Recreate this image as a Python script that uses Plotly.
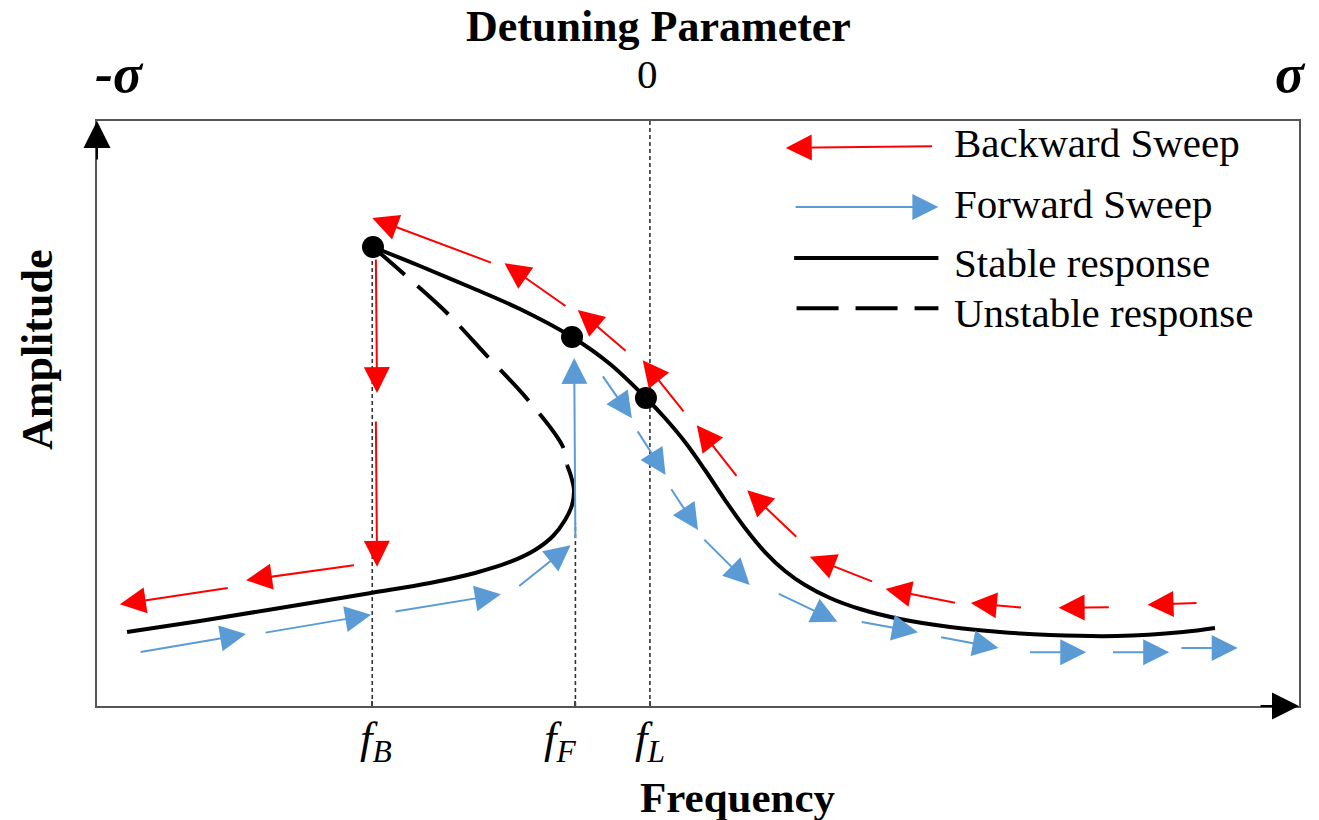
import plotly.graph_objects as go

# ---------------------------------------------------------------------------
# Frequency-response sketch of a hardening Duffing-type resonator.
# Frequency and amplitude are in normalised units (0..100 on both axes).
# ---------------------------------------------------------------------------

# stable upper branch (from the backward jump point f_B out to high frequency)
upper_freq = [22.96, 26.87, 31.03, 35.19, 39.52, 42.68, 45.67, 47.25, 48.92,
              50.58, 52.25, 53.91, 55.57, 57.24, 58.90, 60.98, 63.48, 66.81,
              70.97, 75.12, 79.28, 84.86, 90.35, 93.01]
upper_amp = [78.46, 75.21, 71.62, 67.86, 63.08, 58.46, 52.65, 49.23, 45.13,
             40.34, 35.21, 30.43, 26.32, 23.08, 20.68, 18.46, 16.58, 14.87,
             13.50, 12.65, 12.14, 11.97, 12.65, 13.33]

# stable lower branch (low frequency up to the fold near f_F)
lower_freq = [2.50, 8.57, 15.22, 22.80, 27.70, 31.45, 34.36, 36.44, 37.94,
              38.94, 39.52, 39.68, 39.43, 39.10]
lower_amp = [12.65, 14.53, 16.75, 19.32, 21.03, 22.74, 24.62, 26.67, 29.06,
             31.79, 34.36, 36.92, 39.32, 41.20]

# unstable middle branch joining the two folds
unstable_freq = [22.96, 26.29, 29.12, 32.53, 35.86, 38.77, 39.10]
unstable_amp = [78.46, 72.48, 67.18, 59.66, 52.31, 44.27, 41.20]

# highlighted points on the stable branch
point_freq = [22.96, 39.52, 45.67]
point_amp = [78.46, 63.08, 52.65]

# backward sweep arrows (tail -> tip)
bwd_tail_f = [91.6, 84.3, 77.0, 71.5, 64.6, 58.3, 53.3, 48.9, 44.1, 39.1, 32.9,
              23.2, 23.2, 21.5, 11.0]
bwd_tail_a = [17.6, 16.9, 16.8, 17.6, 21.2, 28.7, 39.1, 50.1, 60.5, 68.2, 75.7,
              76.6, 48.9, 24.1, 20.2]
bwd_tip_f = [87.4, 80.0, 72.7, 65.6, 59.3, 54.1, 49.9, 45.4, 40.0, 33.9, 22.9,
             23.3, 23.3, 12.4, 1.9]
bwd_tip_a = [17.3, 16.8, 17.6, 20.0, 25.5, 36.9, 48.0, 59.1, 67.7, 75.7, 83.4,
             53.5, 23.8, 21.5, 17.4]

# forward sweep arrows (tail -> tip)
fwd_tail_f = [3.5, 13.9, 24.7, 35.0, 39.8, 42.0, 44.9, 47.7, 50.4, 56.6, 63.5,
              70.1, 77.5, 84.4, 90.1]
fwd_tail_a = [9.2, 12.5, 16.1, 20.3, 28.4, 56.6, 47.2, 37.3, 28.7, 19.3, 14.4,
              11.8, 9.2, 9.2, 9.9]
fwd_tip_f = [12.4, 22.8, 33.6, 39.4, 39.7, 44.5, 47.3, 50.0, 54.3, 61.6, 68.3,
             75.0, 82.3, 89.2, 94.9]
fwd_tip_a = [12.3, 15.6, 19.1, 27.5, 59.5, 49.2, 39.5, 30.1, 20.7, 14.4, 12.6,
             9.9, 9.2, 9.2, 9.9]

# characteristic frequencies and their guide-line heights
mark_freq = [22.9, 39.8, 46.0]
mark_top = [78.46, 31.3, 100.0]
mark_labels = ["<i>f</i><sub><i>B</i></sub>",
               "<i>f</i><sub><i>F</i></sub>",
               "<i>f</i><sub><i>L</i></sub>"]
mark_label_freq = [23.2, 38.6, 46.0]

# detuning parameter scale along the top
detune_labels = ["<b><i>-σ</i></b>", "0", "<b><i>σ</i></b>"]
detune_freq = [1.9, 45.8, 99.3]
detune_size = [54, 41, 54]

SERIF = "Liberation Serif, Times New Roman, serif"
RED = "#FF0000"
BLUE = "#5B9BD5"
W, H = 1319, 820
ML, MR, MT, MB = 97, 20, 121, 114


def py2paper(py):
    return (H - MB - py) / (H - MT - MB)


def px2paper(px):
    return (px - ML) / (W - ML - MR)


fig = go.Figure()

# dotted guide lines at f_B, f_F, f_L
for f, top in zip(mark_freq, mark_top):
    fig.add_trace(go.Scatter(x=[f, f], y=[0, top], mode="lines",
                             line=dict(color="#333333", width=1.6, dash="4px,3px"),
                             hoverinfo="skip", showlegend=False))

fig.add_trace(go.Scatter(x=unstable_freq, y=unstable_amp, mode="lines",
                         line=dict(color="black", width=4, dash="42px,17px",
                                   shape="spline"),
                         showlegend=False))
fig.add_trace(go.Scatter(x=lower_freq, y=lower_amp, mode="lines",
                         line=dict(color="black", width=4, shape="spline"),
                         showlegend=False))
fig.add_trace(go.Scatter(x=upper_freq, y=upper_amp, mode="lines",
                         line=dict(color="black", width=4, shape="spline"),
                         showlegend=False))

annotations = []


def sweep_arrow(tx, ty, hx, hy, color, size=2.6):
    return dict(x=hx, y=hy, ax=tx, ay=ty, xref="x", yref="y", axref="x", ayref="y",
                text="", showarrow=True, arrowhead=2, arrowsize=size, arrowwidth=2,
                arrowcolor=color, standoff=0)


for tx, ty, hx, hy in zip(bwd_tail_f, bwd_tail_a, bwd_tip_f, bwd_tip_a):
    annotations.append(sweep_arrow(tx, ty, hx, hy, RED))
for tx, ty, hx, hy in zip(fwd_tail_f, fwd_tail_a, fwd_tip_f, fwd_tip_a):
    annotations.append(sweep_arrow(tx, ty, hx, hy, BLUE))

fig.add_trace(go.Scatter(x=point_freq, y=point_amp, mode="markers",
                         marker=dict(color="black", size=22),
                         showlegend=False))

# legend drawn inside the frame
annotations.append(sweep_arrow(69.6, 95.7, 57.3, 95.4, RED))
annotations.append(sweep_arrow(58.0, 85.3, 70.0, 85.3, BLUE))
shapes = [
    dict(type="line", xref="x", yref="y", x0=58.0, x1=70.0, y0=76.6, y1=76.6,
         line=dict(color="black", width=4)),
    dict(type="line", xref="x", yref="y", x0=58.2, x1=70.0, y0=68.0, y1=68.0,
         line=dict(color="black", width=4, dash="42px,17px")),
]
legend_text = ["Backward Sweep", "Forward Sweep", "Stable response", "Unstable response"]
legend_y = [96.2, 85.8, 75.7, 67.2]
for t, y in zip(legend_text, legend_y):
    annotations.append(dict(x=71.1, y=y, xref="x", yref="y", text=t, showarrow=False,
                            xanchor="left", yanchor="middle",
                            font=dict(family=SERIF, size=41, color="black")))

# axis arrowheads
annotations.append(dict(x=0, y=1, xref="paper", yref="paper", ax=0, ay=40, text="",
                        showarrow=True, arrowhead=2, arrowsize=2.7, arrowwidth=2,
                        arrowcolor="black", standoff=0))
annotations.append(dict(x=1, y=0, xref="paper", yref="paper", ax=-40, ay=0, text="",
                        showarrow=True, arrowhead=2, arrowsize=2.7, arrowwidth=2,
                        arrowcolor="black", standoff=0))

# frequency marks below the axis
for f, lab in zip(mark_label_freq, mark_labels):
    annotations.append(dict(x=f, y=py2paper(741), xref="x", yref="paper", text=lab,
                            showarrow=False, xanchor="center", yanchor="middle",
                            font=dict(family=SERIF, size=45, color="black")))

# detuning scale above the frame
for f, lab, s in zip(detune_freq, detune_labels, detune_size):
    annotations.append(dict(x=f, y=py2paper(74), xref="x", yref="paper", text=lab,
                            showarrow=False, xanchor="center", yanchor="middle",
                            font=dict(family=SERIF, size=s, color="black")))

# titles
annotations.append(dict(x=px2paper(658), y=py2paper(27), xref="paper", yref="paper",
                        text="<b>Detuning Parameter</b>", showarrow=False,
                        xanchor="center", yanchor="middle",
                        font=dict(family=SERIF, size=44, color="black")))
annotations.append(dict(x=px2paper(738), y=py2paper(798), xref="paper", yref="paper",
                        text="<b>Frequency</b>", showarrow=False,
                        xanchor="center", yanchor="middle",
                        font=dict(family=SERIF, size=43, color="black")))
annotations.append(dict(x=px2paper(37), y=py2paper(350), xref="paper", yref="paper",
                        text="<b>Amplitude</b>", showarrow=False, textangle=-90,
                        xanchor="center", yanchor="middle",
                        font=dict(family=SERIF, size=44, color="black")))

axis_style = dict(range=[0, 100], showgrid=False, zeroline=False, showline=True,
                  linecolor="#555555", linewidth=2, mirror=True,
                  showticklabels=False, fixedrange=True)

fig.update_layout(
    width=W, height=H,
    margin=dict(l=ML, r=MR, t=MT, b=MB, pad=0),
    paper_bgcolor="white", plot_bgcolor="white",
    xaxis=dict(**axis_style, ticks="inside", tickvals=mark_freq, ticklen=5,
               tickcolor="#444444", tickwidth=1.5),
    yaxis=dict(**axis_style, ticks=""),
    annotations=annotations,
    shapes=shapes,
    showlegend=False,
)

fig.write_html("out.html")
